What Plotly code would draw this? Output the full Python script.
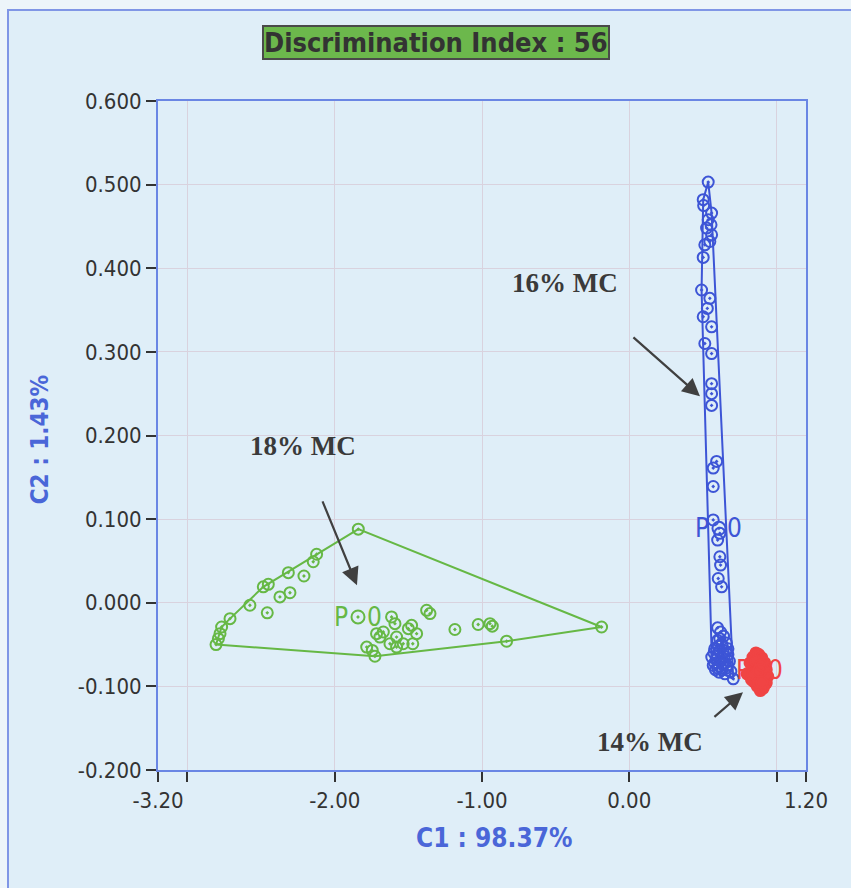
import plotly.graph_objects as go

# ---------------- data ----------------
green_x = [-2.806, -2.790, -2.779, -2.768, -2.711, -2.576, -2.458, -2.485, -2.451, -2.372, -2.304,
           -2.315, -2.209, -2.146, -2.123, -1.840, -0.188, -0.833, -1.727, -1.783, -1.745,
           -1.716, -1.693, -1.670, -1.625, -1.614, -1.591, -1.580, -1.580, -1.535, -1.500,
           -1.478, -1.470, -1.444, -1.376, -1.353, -1.184, -1.026, -0.946, -0.930]
green_y = [-0.050, -0.043, -0.037, -0.029, -0.019, -0.003, -0.012, 0.019, 0.022, 0.007, 0.012,
           0.036, 0.032, 0.049, 0.058, 0.088, -0.029, -0.046, -0.064, -0.053, -0.057,
           -0.037, -0.041, -0.035, -0.049, -0.017, -0.025, -0.041, -0.053, -0.049, -0.031,
           -0.027, -0.049, -0.037, -0.009, -0.013, -0.032, -0.026, -0.025, -0.028]

blue_x = [0.536, 0.502, 0.505, 0.559, 0.536, 0.555, 0.525, 0.559, 0.547, 0.513, 0.502, 0.491,
          0.547, 0.530, 0.502, 0.559, 0.513, 0.559, 0.559, 0.559, 0.559, 0.593, 0.570, 0.570,
          0.570, 0.615, 0.600, 0.615, 0.620, 0.604, 0.627,
          0.600, 0.620, 0.640, 0.600, 0.630, 0.660, 0.580, 0.610, 0.640, 0.670, 0.560, 0.590,
          0.620, 0.650, 0.680, 0.570, 0.600, 0.630, 0.660, 0.690, 0.706, 0.650, 0.610, 0.580,
          0.670, 0.575, 0.595, 0.625, 0.645, 0.665, 0.605, 0.635, 0.585, 0.655, 0.615]
blue_y = [0.503, 0.482, 0.475, 0.466, 0.458, 0.452, 0.448, 0.440, 0.432, 0.428, 0.413, 0.374,
          0.364, 0.352, 0.342, 0.330, 0.310, 0.298, 0.262, 0.250, 0.236, 0.169, 0.161, 0.139,
          0.099, 0.083, 0.075, 0.055, 0.045, 0.029, 0.019,
          -0.030, -0.035, -0.040, -0.045, -0.050, -0.048, -0.055, -0.058, -0.060, -0.062, -0.065,
          -0.068, -0.070, -0.072, -0.070, -0.075, -0.078, -0.080, -0.078, -0.082, -0.091, -0.085,
          -0.083, -0.072, -0.055, -0.060, -0.063, -0.066, -0.064, -0.075, -0.052, -0.074, -0.080,
          -0.058, -0.043]

red_x = [0.800, 0.820, 0.840, 0.860, 0.880, 0.900, 0.920, 0.930, 0.940, 0.930, 0.910, 0.890,
         0.870, 0.850, 0.830, 0.850, 0.870, 0.890, 0.910, 0.880, 0.860, 0.900, 0.840, 0.920,
         0.880, 0.860, 0.900, 0.870, 0.895]
red_y = [-0.085, -0.072, -0.065, -0.060, -0.062, -0.066, -0.072, -0.080, -0.088, -0.096, -0.102,
         -0.105, -0.100, -0.095, -0.092, -0.080, -0.075, -0.085, -0.090, -0.070, -0.088, -0.078,
         -0.085, -0.085, -0.095, -0.070, -0.095, -0.082, -0.074]

centroids = {"green": (-1.842, -0.017), "blue": (0.609, 0.089), "red": (0.887, -0.081)}

x_tickvals = [-3.2, -3.0, -2.0, -1.0, 0.0, 1.0, 1.2]
x_ticktext = ["-3.20", "", "-2.00", "-1.00", "0.00", "", "1.20"]
y_tickvals = [-0.2, -0.1, 0.0, 0.1, 0.2, 0.3, 0.4, 0.5, 0.6]
y_ticktext = ["-0.200", "-0.100", "0.000", "0.100", "0.200", "0.300", "0.400", "0.500", "0.600"]

labels = [("16% MC", -0.437, 0.382, 0.480, 0.247, 0.018, 0.319),
          ("18% MC", -2.216, 0.187, -1.849, 0.021, -2.087, 0.123),
          ("14% MC", 0.140, -0.167, 0.772, -0.107, 0.568, -0.138)]

GREEN = "#66b845"
BLUE = "#3d55d6"
RED = "#f04444"
NARROW = "DejaVu Sans Condensed, Liberation Sans Narrow, Roboto Condensed, Arial Narrow, sans-serif"


def hull(xs, ys):
    pts = sorted(set(zip(xs, ys)))
    def cross(o, a, b):
        return (a[0]-o[0])*(b[1]-o[1]) - (a[1]-o[1])*(b[0]-o[0])
    lower, upper = [], []
    for p in pts:
        while len(lower) >= 2 and cross(lower[-2], lower[-1], p) <= 0:
            lower.pop()
        lower.append(p)
    for p in reversed(pts):
        while len(upper) >= 2 and cross(upper[-2], upper[-1], p) <= 0:
            upper.pop()
        upper.append(p)
    h = lower[:-1] + upper[:-1]
    h.append(h[0])
    return [p[0] for p in h], [p[1] for p in h]


fig = go.Figure()
for xs, ys, col, key, sym in [(green_x, green_y, GREEN, "green", "circle-open-dot"),
                              (blue_x, blue_y, BLUE, "blue", "circle-open-dot"),
                              (red_x, red_y, RED, "red", "circle")]:
    hx, hy = hull(xs, ys)
    fig.add_trace(go.Scatter(x=hx, y=hy, mode="lines", line=dict(color=col, width=2),
                             hoverinfo="skip", showlegend=False))
    fig.add_trace(go.Scatter(x=xs, y=ys, mode="markers", showlegend=False,
                             marker=dict(symbol=sym, size=11, color=col,
                                         line=dict(width=2, color=col))))
    cx, cy = centroids[key]
    fig.add_trace(go.Scatter(x=[cx], y=[cy], mode="markers", showlegend=False,
                             marker=dict(symbol="circle-open-dot", size=13, color=col,
                                         line=dict(width=2, color=col))))
    fig.add_annotation(x=cx, y=cy, text="P", showarrow=False, xshift=-17,
                       font=dict(family=NARROW, size=26, color=col))
    fig.add_annotation(x=cx, y=cy, text="0", showarrow=False, xshift=16,
                       font=dict(family=NARROW, size=26, color=col))

for txt, tx, ty, hx, hy, ax, ay in labels:
    fig.add_annotation(x=tx, y=ty, text="<b>%s</b>" % txt, showarrow=False,
                       font=dict(family="Liberation Serif, Times New Roman, serif", size=27,
                                 color="#3a3a3a"))
    fig.add_annotation(x=hx, y=hy, ax=ax, ay=ay, axref="x", ayref="y", text="",
                       showarrow=True, arrowhead=2, arrowsize=1.6, arrowwidth=2.2,
                       arrowcolor="#404040")

# title box
fig.add_annotation(xref="paper", yref="paper", x=0.429, y=1.087, showarrow=False,
                   xanchor="center", yanchor="middle",
                   text="<b>Discrimination Index : 56</b>",
                   font=dict(family=NARROW, size=27, color="#333333"),
                   bgcolor="#6cb84c", bordercolor="#4a4a4a", borderwidth=2, borderpad=0)
# axis titles
fig.add_annotation(xref="paper", yref="paper", x=0.52, y=-0.102, showarrow=False,
                   xanchor="center", yanchor="middle",
                   text="<b>C1 : 98.37%</b>", font=dict(family=NARROW, size=26, color="#4a66d8"))
fig.add_annotation(xref="paper", yref="paper", x=-0.182, y=0.493, showarrow=False,
                   xanchor="center", yanchor="middle",
                   textangle=-90, text="<b>C2 : 1.43%</b>",
                   font=dict(family=NARROW, size=24, color="#4a66d8"))

# outer frame
fig.add_shape(type="rect", xref="paper", yref="paper", layer="below",
              x0=(8 - 158) / 648, x1=(900 - 158) / 648,
              y0=(770 - 950) / 669, y1=(770 - 10) / 669,
              fillcolor="#dfeef8", line=dict(color="#8096e6", width=2))

fig.update_layout(
    width=851, height=888, autosize=False,
    margin=dict(l=158, r=45, t=101, b=118),
    paper_bgcolor="#edf5fa", plot_bgcolor="white",
    showlegend=False,
)
fig.update_xaxes(range=[-3.2, 1.2], tickvals=x_tickvals, ticktext=x_ticktext,
                 showgrid=True, gridcolor="#d9d2de", gridwidth=1, zeroline=False,
                 showline=True, linecolor="#6a86e4", linewidth=2, mirror=True,
                 ticks="outside", ticklen=10, tickcolor="#333333", tickwidth=2,
                 tickfont=dict(family=NARROW, size=22, color="#333333"))
fig.update_yaxes(range=[-0.2, 0.6], tickvals=y_tickvals, ticktext=y_ticktext,
                 showgrid=True, gridcolor="#d9d2de", gridwidth=1, zeroline=False,
                 showline=True, linecolor="#6a86e4", linewidth=2, mirror=True,
                 ticks="outside", ticklen=10, tickcolor="#333333", tickwidth=2,
                 tickfont=dict(family=NARROW, size=22, color="#333333"))

fig.write_html("out.html")
